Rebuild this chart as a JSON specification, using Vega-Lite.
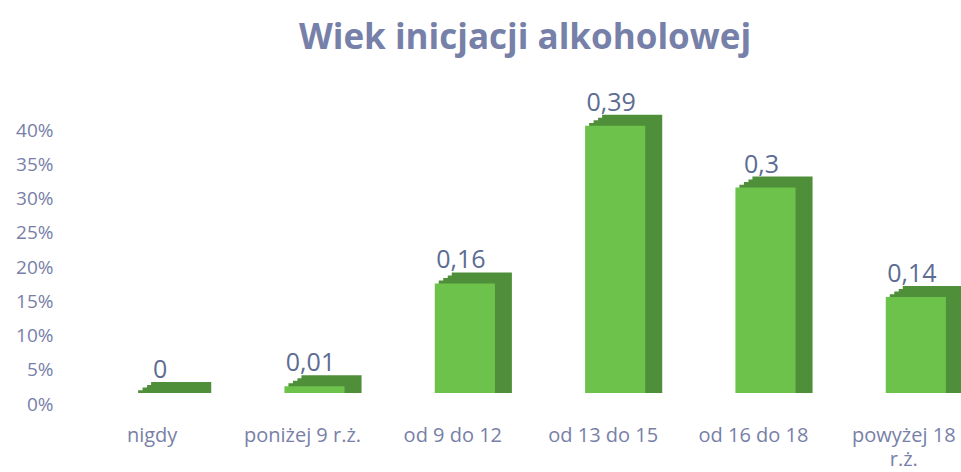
{
  "$schema": "https://vega.github.io/schema/vega-lite/v6.json",
  "autosize": {"type": "none"},
  "padding": {"left": 77, "top": 130, "right": 0, "bottom": 68},
  "width": 884,
  "height": 274,
  "background": "white",
  "config": {
    "view": {"stroke": null},
    "font": "Open Sans",
    "locale": {"number": {"decimal": ",", "thousands": " ", "grouping": [3], "currency": ["", " zł"]}}
  },
  "title": {
    "text": "Wiek inicjacji alkoholowej",
    "fontSize": 35,
    "font": "Open Sans",
    "fontWeight": "bold",
    "color": "#7680a8",
    "anchor": "middle",
    "dx": 6,
    "offset": 35
  },
  "data": {
    "values": [
      {"kategoria": "nigdy", "wartosc": 0},
      {"kategoria": "poniżej 9 r.ż.", "wartosc": 0.01},
      {"kategoria": "od 9 do 12", "wartosc": 0.16},
      {"kategoria": "od 13 do 15", "wartosc": 0.39},
      {"kategoria": "od 16 do 18", "wartosc": 0.3},
      {"kategoria": "powyżej 18 r.ż.", "wartosc": 0.14}
    ]
  },
  "encoding": {
    "x": {
      "field": "kategoria",
      "type": "nominal",
      "sort": null,
      "scale": {"range": [0, 902], "paddingInner": 0.6, "paddingOuter": 0.3},
      "axis": {
        "title": null,
        "labelAngle": 0,
        "domain": false,
        "ticks": false,
        "labelPadding": 21,
        "labelFontSize": 20,
        "labelColor": "#7880a8",
        "labelFont": "Open Sans",
        "labelLineHeight": 24,
        "labelExpr": "datum.value == 'powyżej 18 r.ż.' ? ['powyżej 18', 'r.ż.'] : datum.value"
      }
    },
    "y": {
      "field": "wartosc",
      "type": "quantitative",
      "scale": {"domain": [0, 0.4]},
      "axis": {
        "title": null,
        "format": ".0%",
        "values": [0, 0.05, 0.1, 0.15, 0.2, 0.25, 0.3, 0.35, 0.4],
        "grid": false,
        "domain": false,
        "ticks": false,
        "labelPadding": 24,
        "labelFontSize": 19,
        "labelColor": "#7880a8",
        "labelFont": "Open Sans"
      }
    }
  },
  "layer": [
    {
      "mark": {"type": "bar", "color": "#4f8f3a", "xOffset": 29, "yOffset": -22, "y2Offset": -11},
      "encoding": {"y2": {"datum": 0}}
    },
    {
      "mark": {"type": "bar", "color": "#4f8f3a", "xOffset": 25, "yOffset": -19, "y2Offset": -11},
      "encoding": {"y2": {"datum": 0}}
    },
    {
      "mark": {"type": "bar", "color": "#4f8f3a", "xOffset": 20.5, "yOffset": -16.5, "y2Offset": -11},
      "encoding": {"y2": {"datum": 0}}
    },
    {
      "mark": {"type": "bar", "color": "#4f8f3a", "xOffset": 16, "yOffset": -13.8, "y2Offset": -11},
      "encoding": {"y2": {"datum": 0}}
    },
    {
      "mark": {"type": "bar", "color": "#6cc24a", "xOffset": 12, "yOffset": -11, "y2Offset": -11},
      "encoding": {"y2": {"datum": 0}}
    },
    {
      "mark": {"type": "text", "fontSize": 25, "color": "#5c6c94", "dx": 8, "dy": -26, "baseline": "alphabetic", "font": "Open Sans"},
      "encoding": {"text": {"field": "wartosc", "type": "quantitative", "format": "~g"}}
    }
  ]
}
